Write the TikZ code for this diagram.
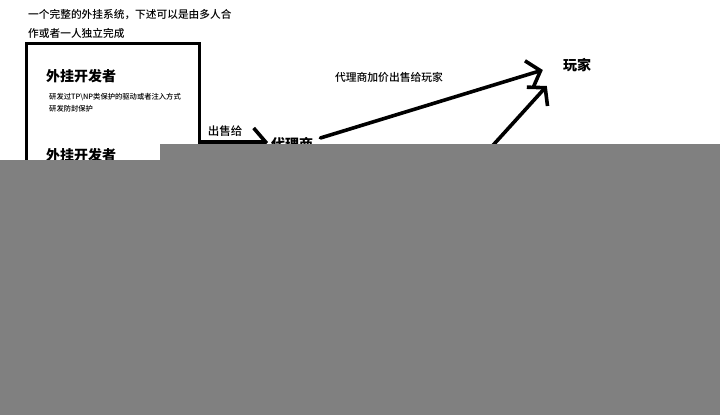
\documentclass[tikz,border=0pt]{standalone}
\usepackage{fontspec}
\setmainfont{Noto Sans CJK SC}
\newfontfamily\medfont{Noto Sans CJK SC Medium}
\usetikzlibrary{arrows.meta,calc}
\definecolor{cover}{RGB}{128,128,128}
\tikzset{
  txt/.style={inner sep=0pt, text=black},
  big/.style={txt, font=\fontsize{14}{16}\selectfont\bfseries},
  mid/.style={txt, font=\medfont\fontsize{10.7}{12}\selectfont},
  small/.style={txt, font=\medfont\fontsize{7.3}{9}\selectfont},
  heavy/.style={line width=3.6pt, line cap=round, line join=round},
  barb/.style={heavy, -{Straight Barb[length=12pt,width=28pt,line width=3.6pt]}},
}
\begin{document}
\begin{tikzpicture}[x=1pt,y=-1pt]
\useasboundingbox (0,0) rectangle (720,415);
\fill[white] (0,0) rectangle (720,415);
% header text
\node[mid, anchor=west] (t1) at (28,15) {一个完整的外挂系统，下述可以是由多人合};
\node[mid, anchor=west] (t2) at (28,33) {作或者一人独立完成};
% developer box
\node[draw, line width=3pt, minimum width=173pt, minimum height=300pt, anchor=north west, inner sep=0pt] (box) at (25,42) {};
\node[big, anchor=west] (d1) at (46,76) {外挂开发者};
\node[small, anchor=west] (d1a) at (49,97) {研发过TP\textbackslash NP类保护的驱动或者注入方式};
\node[small, anchor=west] (d1b) at (49,109) {研发防封保护};
\node[big, anchor=west] (d2) at (46,155) {外挂开发者};
% agent and player
\node[mid, font=\medfont\fontsize{11.5}{13}\selectfont] (sell) at (225,131) {出售给};
\node[big, anchor=west] (agent) at (271,144) {代理商};
\node[big] (player) at (577,65) {玩家};
\node[mid, font=\medfont\fontsize{10.8}{12}\selectfont] (price) at (389,77) {代理商加价出售给玩家};
\coordinate (src3) at (466,175);
% connectors
\draw[barb] (box.east |- 0,142) -- ($(agent.west)+(-3,-2)$);
\draw[barb] ($(agent.east)+(7,-6)$) -- ($(player.west)+(-20,5)$);
\draw[barb] (src3) -- ($(player.south west)+(-16,14)$);
% cover
\fill[cover] (0,160) rectangle (160,415);
\fill[cover] (160,144) rectangle (720,415);
\end{tikzpicture}
\end{document}
